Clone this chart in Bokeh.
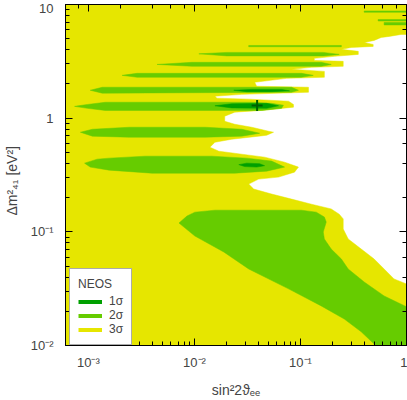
from bokeh.plotting import figure
from bokeh.models import (Range1d, LogAxis, CustomJSTickFormatter,
                          Legend, LegendItem, ColumnDataSource)
from bokeh.embed import file_html
from bokeh.resources import INLINE

# ---------------- axes -----------------
x_range_vals = [6.08e-4, 1.0]
y_range_vals = [0.01, 10.0]
x_tick_values = [1e-3, 1e-2, 1e-1, 1.0]
x_tick_labels = ["10⁻³", "10⁻²", "10⁻¹", "1"]
y_tick_values = [1e-2, 1e-1, 1.0, 10.0]
y_tick_labels = ["10⁻²", "10⁻¹", "1", "10"]
x_title = "sin²2ϑₑₑ"
y_title = "Δm²₄₁    [eV²]"

legend_title = "NEOS"
sigma_labels = ["1σ", "2σ", "3σ"]
sigma_colors = ["#00a000", "#66cc00", "#e6e600"]

# ---------------- 3 sigma allowed region: right-hand boundary (top -> bottom) -----
sig3_edge_sin2 = [1.0, 0.888, 0.686, 0.577, 0.495, 0.399, 0.485, 0.485, 0.301, 0.243,
                  0.351, 0.351, 0.209, 0.135, 0.135, 0.253, 0.253, 0.127, 0.0823, 0.168,
                  0.168, 0.0739, 0.0370, 0.0386, 0.119, 0.119, 0.0279, 0.0156, 0.0163, 0.0325,
                  0.0772, 0.0859, 0.0859, 0.0430, 0.0240, 0.0193, 0.0193, 0.0240, 0.0347, 0.0501,
                  0.0557, 0.0480, 0.0403, 0.0225, 0.0156, 0.0140, 0.0170, 0.0279, 0.0459, 0.0708,
                  0.0957, 0.0878, 0.0621, 0.0403, 0.0325, 0.0362, 0.0534, 0.0823, 0.127, 0.195,
                  0.232, 0.253, 0.253, 0.282, 0.374, 0.495, 0.615, 0.763, 1.0]
sig3_edge_dm2 = [5.45, 5.45, 5.24, 5.13, 4.83, 4.64, 4.45, 4.28, 4.19, 4.03,
                 3.87, 3.64, 3.50, 3.36, 3.22, 3.16, 2.86, 2.80, 2.69, 2.58,
                 2.29, 2.24, 2.07, 1.91, 1.87, 1.69, 1.62, 1.56, 1.50, 1.47,
                 1.41, 1.32, 1.25, 1.17, 1.13, 1.04, 0.939, 0.884, 0.832, 0.767,
                 0.752, 0.708, 0.694, 0.653, 0.614, 0.555, 0.512, 0.482, 0.454, 0.410,
                 0.371, 0.335, 0.303, 0.291, 0.263, 0.238, 0.215, 0.194, 0.175, 0.159,
                 0.143, 0.130, 0.106, 0.0865, 0.0706, 0.0577, 0.0471, 0.0385, 0.0348]
scan_sin2 = [1e-4, 1.0]
scan_dm2 = [1e-3, 20.0]

# ---------------- 2 sigma islands -----------------
s2_b040_x = [9.2e-4, 1.21e-3, 1.57e-3, 3.43e-3, 0.0146, 0.0311, 0.0534, 0.0708, 0.0480, 0.0240, 3.99e-3, 1.57e-3, 1.04e-3]
s2_b040_y = [0.402, 0.436, 0.445, 0.463, 0.463, 0.445, 0.419, 0.371, 0.342, 0.328, 0.328, 0.349, 0.371]
s2_b075_x = [8.4e-4, 1.09e-3, 2.43e-3, 0.0126, 0.0279, 0.0412, 0.0279, 0.0126, 2.43e-3, 1.09e-3]
s2_b075_y = [0.752, 0.799, 0.832, 0.832, 0.799, 0.737, 0.694, 0.680, 0.680, 0.694]
s2_b130_x = [7.4e-4, 9.8e-4, 1.44e-3, 0.0347, 0.0534, 0.0691, 0.0663, 0.0430, 1.44e-3, 9.8e-4]
s2_b130_y = [1.27, 1.32, 1.38, 1.38, 1.35, 1.30, 1.22, 1.17, 1.17, 1.22]
s2_b180_x = [1.04e-3, 1.35e-3, 0.0823, 0.0957, 0.0823, 1.35e-3]
s2_b180_y = [1.76, 1.87, 1.87, 1.76, 1.69, 1.66]
s2_b240_x = [2.08e-3, 2.88e-3, 0.102, 0.132, 0.102, 2.88e-3]
s2_b240_y = [2.38, 2.48, 2.48, 2.38, 2.29, 2.29]
s2_b300_x = [4.44e-3, 9.5e-3, 0.157, 0.195, 0.157, 9.5e-3]
s2_b300_y = [2.97, 3.10, 3.10, 2.97, 2.86, 2.86]
s2_b380_x = [0.0110, 0.0202, 0.164, 0.232, 0.164, 0.0202]
s2_b380_y = [3.68, 3.79, 3.79, 3.64, 3.53, 3.53]
s2_b440_x = [0.0325, 0.243, 0.243, 0.0325]
s2_b440_y = [4.36, 4.36, 4.25, 4.25]
s2_b680_x = [0.615, 1.0, 1.0, 0.615]
s2_b680_y = [6.95, 6.95, 6.61, 6.61]
s2_b730_x = [0.540, 1.0, 1.0, 0.540]
s2_b730_y = [7.38, 7.38, 7.16, 7.16]
s2_b870_x = [0.399, 1.0, 1.0, 0.399]
s2_b870_y = [8.77, 8.77, 8.54, 8.54]
s2_low_x = [7.15e-3, 8.50e-3, 0.0101, 0.0156, 0.102, 0.141, 0.168, 0.175, 0.164, 0.168,
            0.195, 0.243, 0.282, 0.399, 0.615, 1.0, 1.0, 0.48, 0.495, 0.374,
            0.259, 0.157, 0.0772, 0.0325, 0.0189, 0.0101]
s2_low_y = [0.1195, 0.1376, 0.149, 0.155, 0.155, 0.149, 0.135, 0.122, 0.0996, 0.0865,
            0.0706, 0.0577, 0.0471, 0.0362, 0.0273, 0.0219, 0.009, 0.009, 0.0103, 0.0132,
            0.0171, 0.0223, 0.0315, 0.0471, 0.0665, 0.0918]

# ---------------- 1 sigma islands -----------------
s1_b040_x = [0.0262, 0.0311, 0.0412, 0.0459, 0.0386, 0.0298]
s1_b040_y = [0.390, 0.402, 0.398, 0.382, 0.371, 0.375]
s1_b130_x = [0.0156, 0.0225, 0.0480, 0.0621, 0.0480, 0.0225]
s1_b130_y = [1.285, 1.34, 1.35, 1.285, 1.22, 1.23]
s1_b180_x = [0.0235, 0.0347, 0.0663, 0.0789, 0.0534, 0.0311]
s1_b180_y = [1.76, 1.79, 1.79, 1.74, 1.71, 1.71]

best_fit_sin2 = [0.039]
best_fit_dm2 = [1.29]

FONT = "Liberation Sans"

p = figure(width=407, height=400, x_axis_type="log", y_axis_type="log",
           x_range=Range1d(*x_range_vals), y_range=Range1d(*y_range_vals),
           output_backend="svg", toolbar_location=None,
           min_border_left=63, min_border_right=1, min_border_top=4, min_border_bottom=53)
p.grid.visible = False
p.outline_line_color = "black"
p.background_fill_color = "white"

# 3 sigma
sig3_x = [scan_sin2[0], scan_sin2[1]] + sig3_edge_sin2 + [scan_sin2[1], scan_sin2[0]]
sig3_y = [scan_dm2[1], scan_dm2[1]] + sig3_edge_dm2 + [scan_dm2[0], scan_dm2[0]]
p.patch(sig3_x, sig3_y, fill_color=sigma_colors[2], line_color=sigma_colors[2], line_width=0.5)

s2_xs = [s2_b040_x, s2_b075_x, s2_b130_x, s2_b180_x, s2_b240_x, s2_b300_x, s2_b380_x,
         s2_b440_x, s2_b680_x, s2_b730_x, s2_b870_x, s2_low_x]
s2_ys = [s2_b040_y, s2_b075_y, s2_b130_y, s2_b180_y, s2_b240_y, s2_b300_y, s2_b380_y,
         s2_b440_y, s2_b680_y, s2_b730_y, s2_b870_y, s2_low_y]
p.patches(s2_xs, s2_ys, fill_color=sigma_colors[1], line_color=sigma_colors[1], line_width=0.5)

s1_xs = [s1_b040_x, s1_b130_x, s1_b180_x]
s1_ys = [s1_b040_y, s1_b130_y, s1_b180_y]
p.patches(s1_xs, s1_ys, fill_color=sigma_colors[0], line_color=sigma_colors[0], line_width=0.5)

p.scatter(best_fit_sin2, best_fit_dm2, marker="cross", size=11, line_color="#006000", line_width=2)

# legend proxies (a single NaN point each: nothing drawn in the plot, only the swatch)
items = []
for lab, col in zip(sigma_labels, sigma_colors):
    src = ColumnDataSource(dict(x=[float("nan")], y=[float("nan")]))
    r = p.line(x="x", y="y", source=src, line_color=col, line_width=4)
    items.append(LegendItem(label=lab, renderers=[r]))
leg = Legend(items=items, title=legend_title, location=(4, 0))
leg.title_text_font = FONT
leg.title_text_font_style = "normal"
leg.title_text_font_size = "12px"
leg.title_standoff = 3
leg.label_text_font = FONT
leg.label_text_font_size = "12px"
leg.glyph_width = 24
leg.glyph_height = 13
leg.label_height = 13
leg.label_width = 10
leg.label_standoff = 7
leg.spacing = 0
leg.padding = 8
leg.margin = 0
leg.border_line_color = "#555555"
leg.border_line_width = 1
leg.background_fill_alpha = 1.0
p.add_layout(leg, "center")

code = """
let best = 0, d = Infinity;
for (let i = 0; i < tvals.length; i++) {
  const dd = Math.abs(Math.log10(tick) - Math.log10(tvals[i]));
  if (dd < d) { d = dd; best = i; }
}
return d < 0.01 ? tlabels[best] : "";
"""

def style(ax):
    ax.major_tick_in = 7
    ax.major_tick_out = 0
    ax.minor_tick_in = 4
    ax.minor_tick_out = 0
    ax.axis_line_color = "black"
    ax.major_tick_line_color = "black"
    ax.minor_tick_line_color = "black"
    ax.major_label_text_font = FONT
    ax.major_label_text_font_size = "13px"
    ax.axis_label_text_font = FONT
    ax.axis_label_text_font_size = "14px"
    ax.axis_label_text_font_style = "normal"

xa = p.xaxis[0]
ya = p.yaxis[0]
style(xa); style(ya)
xa.formatter = CustomJSTickFormatter(args=dict(tvals=x_tick_values, tlabels=x_tick_labels), code=code)
ya.formatter = CustomJSTickFormatter(args=dict(tvals=y_tick_values, tlabels=y_tick_labels), code=code)
xa.major_label_standoff = 9
ya.major_label_standoff = 12
xa.axis_label = x_title
ya.axis_label = y_title
xa.axis_label_standoff = 9
ya.axis_label_standoff = 8

blank = "return '';"
top = LogAxis(formatter=CustomJSTickFormatter(code=blank), major_label_standoff=0)
right = LogAxis(formatter=CustomJSTickFormatter(code=blank), major_label_standoff=0)
style(top); style(right)
top.major_label_text_font_size = "1px"
right.major_label_text_font_size = "1px"
p.add_layout(top, "above")
p.add_layout(right, "right")

open("out.html", "w").write(file_html(p, INLINE))
